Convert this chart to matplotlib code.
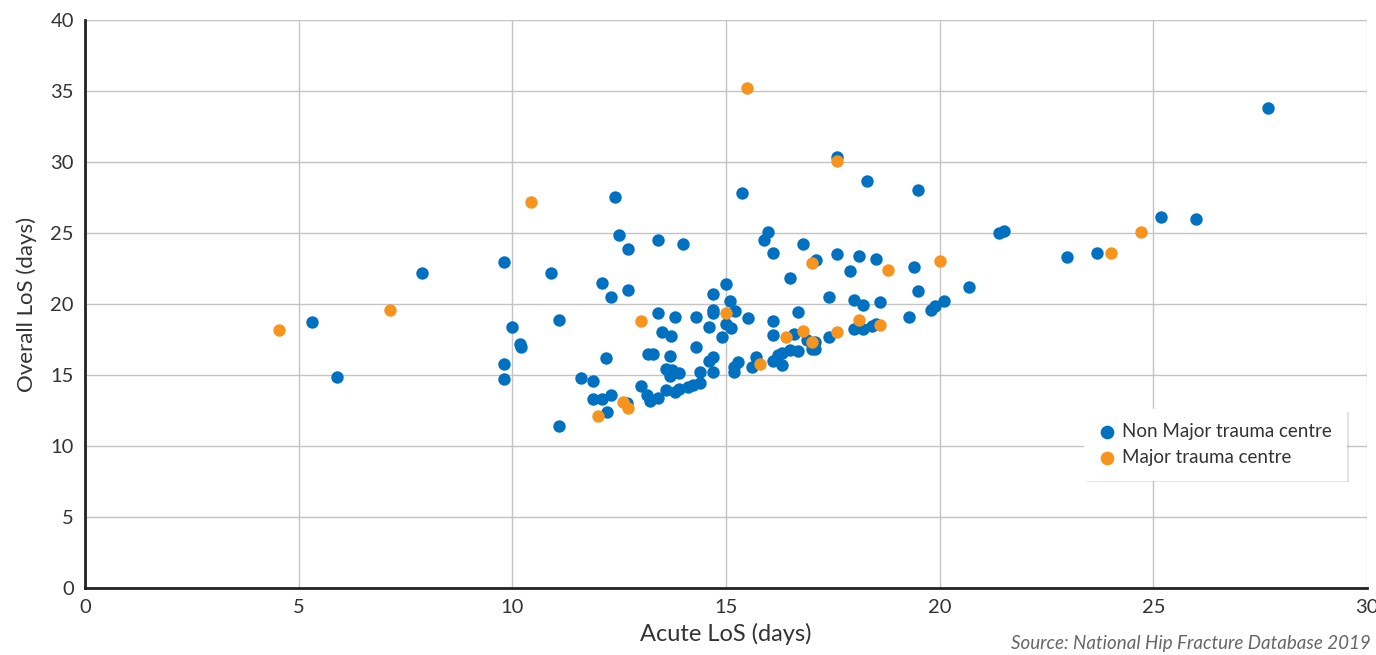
import matplotlib.pyplot as plt
import matplotlib.patheffects as pe

plt.rcParams['font.family'] = ['Lato', 'DejaVu Sans']

# Non major trauma centres (acute LoS, overall LoS)
non_mtc_x = [5.31, 5.90, 7.89, 9.81, 9.81, 9.81, 9.99, 10.18, 10.20, 10.91,
             11.09, 11.09, 11.61, 11.89, 11.89, 12.10, 12.10, 12.19, 12.22, 12.31,
             12.31, 12.40, 12.50, 12.71, 12.71, 12.68, 13.01, 13.15, 13.22, 13.41,
             13.18, 13.29, 13.41, 13.41, 13.50, 13.71, 13.69, 13.60, 13.74, 13.90,
             13.69, 13.60, 13.81, 13.90, 13.81, 14.00, 14.11, 14.23, 14.39, 14.39,
             14.30, 14.30, 14.60, 14.60, 14.70, 14.70, 14.70, 14.70, 14.70, 14.91,
             15.00, 15.00, 15.12, 15.09, 15.21, 15.19, 15.19, 15.28, 15.38, 15.52,
             15.61, 15.70, 15.89, 15.98, 16.10, 16.10, 16.10, 16.10, 16.22, 16.31,
             16.31, 16.50, 16.50, 16.59, 16.69, 16.69, 16.80, 16.90, 17.08, 17.08,
             17.01, 17.11, 17.41, 17.41, 17.60, 17.60, 17.90, 18.00, 18.00, 18.11,
             18.21, 18.21, 18.30, 18.42, 18.51, 18.51, 18.61, 19.28, 19.40, 19.49,
             19.49, 19.80, 19.89, 20.10, 20.69, 21.39, 21.51, 22.98, 23.68, 25.18,
             26.00, 27.68]
non_mtc_y = [18.73, 14.86, 22.18, 22.96, 15.77, 14.72, 18.38, 17.20, 17.00, 22.18,
             18.87, 11.41, 14.79, 14.58, 13.31, 13.31, 21.48, 16.20, 12.39, 20.49,
             13.59, 27.54, 24.86, 23.87, 20.99, 13.03, 14.23, 13.59, 13.17, 13.38,
             16.48, 16.48, 24.51, 19.37, 18.03, 17.75, 16.34, 15.42, 15.35, 15.14,
             14.93, 13.94, 13.80, 14.01, 19.08, 24.23, 14.15, 14.30, 14.44, 15.21,
             19.08, 16.97, 18.38, 15.99, 16.27, 15.21, 20.70, 19.58, 19.37, 17.68,
             21.41, 18.59, 18.31, 20.21, 19.51, 15.56, 15.21, 15.92, 27.82, 19.01,
             15.56, 16.27, 24.51, 25.07, 23.59, 18.80, 17.82, 15.99, 16.41, 15.70,
             16.55, 16.76, 21.83, 17.89, 16.69, 19.44, 24.23, 17.46, 17.32, 16.83,
             16.83, 23.10, 20.49, 17.68, 30.35, 23.52, 22.32, 20.28, 18.24, 23.38,
             19.93, 18.24, 28.66, 18.45, 18.59, 23.17, 20.14, 19.08, 22.61, 20.92,
             28.03, 19.58, 19.86, 20.21, 21.20, 25.00, 25.14, 23.31, 23.59, 26.13,
             25.99, 33.80]

# Major trauma centres
mtc_x = [4.54, 7.14, 10.44, 15.50, 17.60, 13.00, 15.00, 15.80, 12.60, 12.70,
         12.00, 17.00, 18.80, 20.00, 18.10, 18.60, 17.60, 16.80, 16.40, 17.00,
         24.00, 24.70]
mtc_y = [18.20, 19.60, 27.20, 35.20, 30.10, 18.80, 19.40, 15.80, 13.10, 12.70,
         12.10, 22.90, 22.40, 23.00, 18.90, 18.50, 18.00, 18.10, 17.70, 17.30,
         23.60, 25.10]

blue = '#0070C0'
orange = '#F7941D'

fig = plt.figure(figsize=(13.76, 6.55), dpi=100)
ax = fig.add_axes([0.0618, 0.1023, 0.9317, 0.8672])

ax.scatter(non_mtc_x, non_mtc_y, s=80, color=blue, linewidths=0,
           label='Non Major trauma centre', zorder=3)
ax.scatter(mtc_x, mtc_y, s=80, color=orange, linewidths=0,
           label='Major trauma centre', zorder=4)

ax.set_xlim(0, 30)
ax.set_ylim(0, 40)
ax.set_xticks(range(0, 31, 5))
ax.set_yticks(range(0, 41, 5))
ax.grid(True, color='#c4c4c4', linewidth=1)
ax.set_axisbelow(True)
for side in ['top', 'right']:
    ax.spines[side].set_visible(False)
for side in ['left', 'bottom']:
    ax.spines[side].set_color('#222222')
    ax.spines[side].set_linewidth(2)
ax.tick_params(length=0, labelsize=14.5, labelcolor='#333333', pad=8)

ax.set_xlabel('Acute LoS (days)', fontsize=17, color='#333333', labelpad=5)
ax.set_ylabel('Overall LoS (days)', fontsize=16, color='#333333', labelpad=10)

leg = ax.legend(loc='upper left', bbox_to_anchor=(0.779, 0.315), fontsize=13.5,
                frameon=True, fancybox=False, handletextpad=0.3, framealpha=1,
                borderpad=0.75, labelspacing=0.45, handlelength=1.0,
                borderaxespad=0, markerscale=1.1)
frame = leg.get_frame()
frame.set_edgecolor('white')
frame.set_facecolor('white')
frame.set_path_effects([pe.SimplePatchShadow(offset=(2, -2), shadow_rgbFace='#000000', alpha=0.12),
                        pe.Normal()])
for t in leg.get_texts():
    t.set_color('#333333')

fig.text(0.9965, 0.005, 'Source: National Hip Fracture Database 2019',
         ha='right', va='bottom', fontsize=13.5, style='italic', color='#666666')

fig.savefig('out.png', dpi=100)
